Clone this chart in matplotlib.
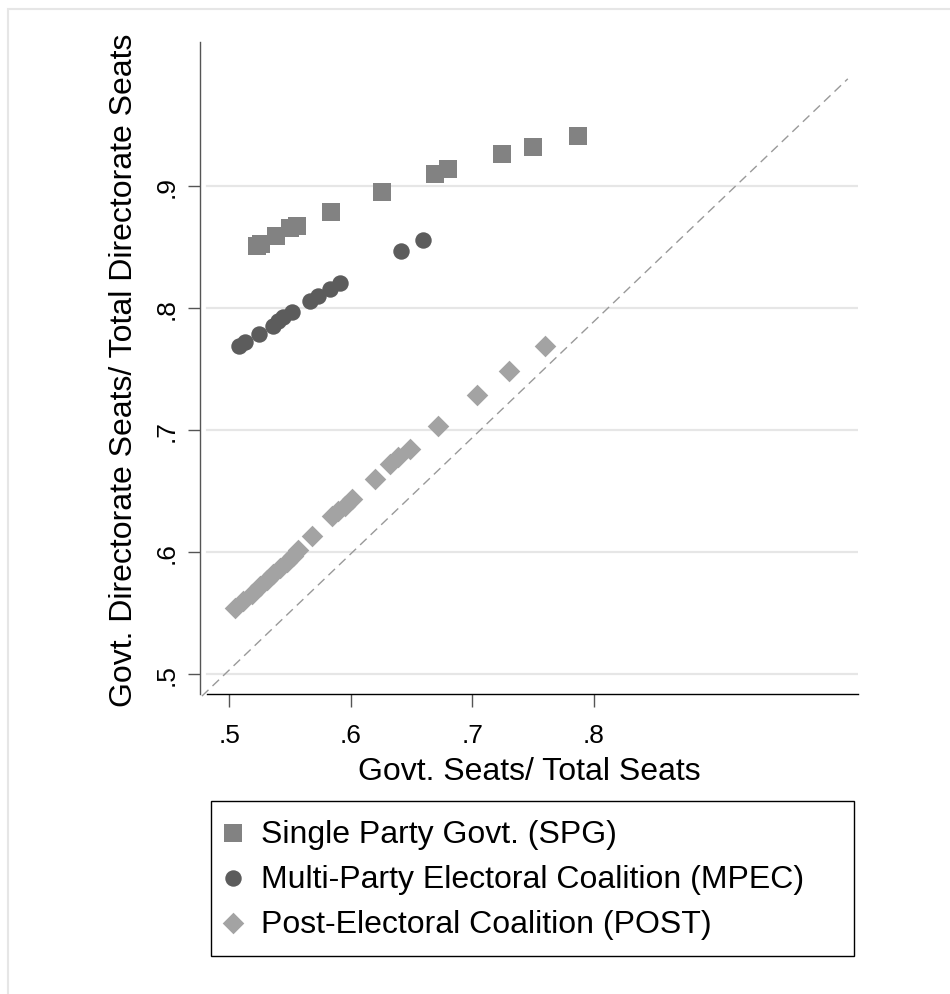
import matplotlib
matplotlib.use("Agg")
import matplotlib.pyplot as plt
from matplotlib.patches import Rectangle

plt.rcParams['font.family'] = ['Liberation Sans', 'DejaVu Sans']

# Single Party Govt. (SPG)
spg_x = [0.5226, 0.5258, 0.5384, 0.5500, 0.5560, 0.5835, 0.6254, 0.6693,
         0.6802, 0.7242, 0.7497, 0.7870]
spg_y = [0.8508, 0.8525, 0.8590, 0.8651, 0.8667, 0.8782, 0.8951, 0.9096,
         0.9137, 0.9260, 0.9320, 0.9405]

# Multi-Party Electoral Coalition (MPEC)
mpec_x = [0.5082, 0.5129, 0.5247, 0.5357, 0.5403, 0.5444, 0.5514, 0.5664,
          0.5733, 0.5829, 0.5911, 0.6413, 0.6592]
mpec_y = [0.7689, 0.7721, 0.7784, 0.7852, 0.7893, 0.7921, 0.7962, 0.8057,
          0.8093, 0.8153, 0.8202, 0.8467, 0.8557]

# Post-Electoral Coalition (POST)
post_x = [0.5047, 0.5115, 0.5184, 0.5253, 0.5308, 0.5362, 0.5417, 0.5472,
          0.5527, 0.5568, 0.5678, 0.5843, 0.5897, 0.5952, 0.6007, 0.6199,
          0.6323, 0.6391, 0.6487, 0.6720, 0.7036, 0.7305, 0.7598]
post_y = [0.5536, 0.5598, 0.5653, 0.5721, 0.5770, 0.5817, 0.5864, 0.5918,
          0.5967, 0.6016, 0.6131, 0.6295, 0.6336, 0.6377, 0.6432, 0.6596,
          0.6719, 0.6774, 0.6842, 0.7033, 0.7284, 0.7484, 0.7689]

# dashed reference line end points
ref_x = [0.4775, 1.009]
ref_y = [0.4817, 0.9876]

x_ticks = [0.5, 0.6, 0.7, 0.8]
x_labels = ['.5', '.6', '.7', '.8']
y_ticks = [0.5, 0.6, 0.7, 0.8, 0.9]
y_labels = ['.5', '.6', '.7', '.8', '.9']

fig = plt.figure(figsize=(9.5, 9.95), dpi=100)
ax = fig.add_axes([0.21053, 0.30151, 0.69263, 0.65528])
ax.set_xlim(0.4759, 1.0174)
ax.set_ylim(0.4834, 1.0178)

for yv in y_ticks:
    ax.axhline(yv, xmin=0.01, xmax=1.0, color='#e6e6e6', lw=1.6, zorder=0)

ax.plot(ref_x, ref_y, color='#999999', lw=1.0, dashes=(6.5, 4), zorder=1, clip_on=False)

ax.scatter(spg_x, spg_y, marker='s', s=150, color='#828282', lw=0,
           zorder=3, label='Single Party Govt. (SPG)')
ax.scatter(mpec_x, mpec_y, marker='o', s=140, color='#5c5c5c', lw=0,
           zorder=3, label='Multi-Party Electoral Coalition (MPEC)')
ax.scatter(post_x, post_y, marker='D', s=121, color='#a3a3a3', lw=0,
           zorder=3, label='Post-Electoral Coalition (POST)')

ax.spines['top'].set_visible(False)
ax.spines['right'].set_visible(False)
ax.spines['left'].set_color('#555555')
ax.spines['left'].set_linewidth(1.0)
ax.spines['bottom'].set_color('black')
ax.spines['bottom'].set_linewidth(1.0)
ax.spines['bottom'].set_bounds(0.4814, 1.0174)

ax.set_xticks(x_ticks)
ax.set_xticklabels(x_labels)
ax.set_yticks(y_ticks)
ax.set_yticklabels(y_labels)
ax.tick_params(axis='both', direction='out', length=9, width=1,
               color='#555555', labelsize=19, labelcolor='black')
ax.tick_params(axis='x', pad=12)
ax.tick_params(axis='y', pad=6.5, labelrotation=90)
for lbl in ax.get_yticklabels():
    lbl.set_va('center')

fig.text(529 / 950, 1 - 780 / 995, 'Govt. Seats/ Total Seats',
         ha='center', va='baseline', fontsize=23)
fig.text(124 / 950, 1 - 370.5 / 995, 'Govt. Directorate Seats/ Total Directorate Seats',
         rotation=90, ha='center', va='center', fontsize=23)

leg = ax.legend(loc='upper left',
                bbox_to_anchor=(211 / 950, 0.0, 643 / 950, (995 - 802) / 995),
                bbox_transform=fig.transFigure, mode='expand',
                fontsize=23, frameon=True, fancybox=False, framealpha=1,
                edgecolor='black', borderpad=0.55, handlelength=0.3,
                handletextpad=0.7, labelspacing=0.47, borderaxespad=0,
                scatterpoints=1)
leg.get_frame().set_linewidth(1.0)

fig.add_artist(Rectangle((8 / 950, -0.01), 1.0, 1 - 10 / 995 + 0.01,
                         transform=fig.transFigure, fill=False,
                         edgecolor='#e6e6e6', lw=1.5))

fig.savefig('out.png', dpi=100)
